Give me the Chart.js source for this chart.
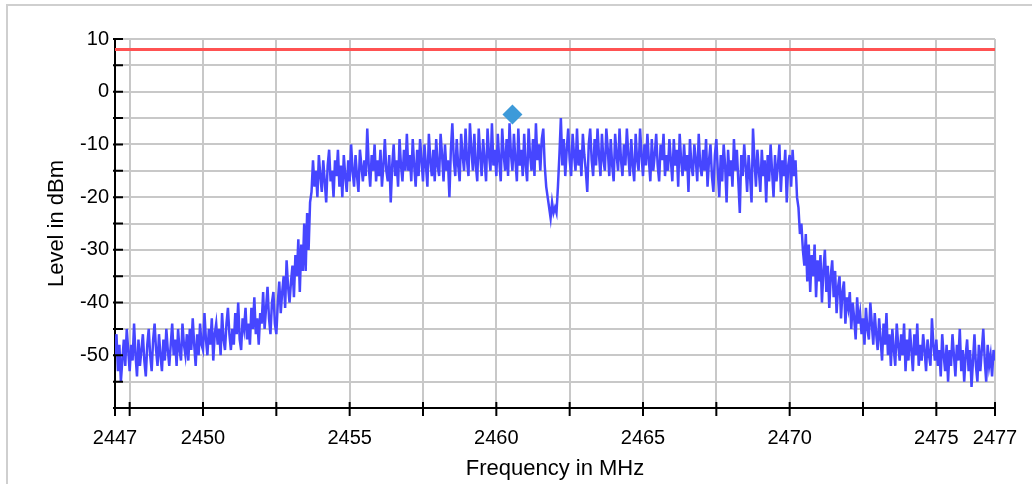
<!DOCTYPE html>
<html>
<head>
<meta charset="utf-8">
<title>Spectrum</title>
<script src="https://cdn.jsdelivr.net/npm/chart.js@4.4.1/dist/chart.umd.min.js"></script>
<style>
  html, body { margin: 0; padding: 0; background: #fff; }
  #wrap { position: relative; width: 1032px; height: 484px; overflow: hidden; }
  #frame { position: absolute; left: 6px; top: 4px; width: 1200px; height: 700px;
           border-left: 2px solid #cfcfcf; border-top: 2px solid #cfcfcf; }
  canvas { position: absolute; left: 0; top: 0; }
</style>
</head>
<body>
<div id="wrap">
  <div id="frame"></div>
  <canvas id="myChart" width="1032" height="484"></canvas>
</div>
<script>
// Sweep span (MHz), trace points are evenly spaced across it
const spanStart = 2447;
const spanStop = 2477;

// Measured level in dBm, one row per 0.5 MHz
const lowerSkirt = [
  -50, -46, -53, -48, -55, -51, -47, -52, -45, -49,
  -53, -48, -51, -44, -50, -54, -47, -52, -49, -46,
  -51, -54, -48, -45, -50, -53, -47, -44, -49, -52,
  -46, -50, -53, -47, -51, -45, -49, -52, -48, -44,
  -50, -47, -52, -45, -49, -51, -44, -48, -50, -46,
  -51, -45, -49, -43, -48, -52, -46, -50, -44, -48,
  -49, -42, -47, -50, -45, -48, -43, -51, -46, -44,
  -48, -45, -50, -42, -47, -49, -44, -41, -46, -49,
  -45, -48, -42, -46, -40, -47, -49, -43, -45, -41,
  -47, -44, -48, -41, -45, -39, -46, -43, -48, -42,
  -44, -38, -45, -41, -37, -43, -46, -40, -38, -44,
  -46, -40, -36, -42, -38, -35, -41, -32, -37, -40,
  -36, -33, -39, -31, -35, -28, -38, -29, -34, -25,
  -34, -23, -30, -21, -19, -13, -18, -15, -20, -12
];
const passband = [
  -16, -19, -13, -17, -21, -14, -11, -17, -15, -20,
  -13, -16, -11, -18, -14, -20, -12, -16, -19, -13,
  -17, -10, -15, -18, -12, -16, -19, -11, -14, -17,
  -13, -16, -7, -14, -18, -12, -15, -10, -17, -13,
  -16, -11, -18, -14, -9, -15, -17, -12, -21, -14,
  -10, -16, -13, -18, -9, -14, -17, -11, -15, -8,
  -15, -12, -17, -9, -14, -18, -11, -16, -9, -13,
  -17, -10, -14, -18, -8, -13, -16, -11, -17, -9,
  -14, -16, -8, -12, -17, -10, -15, -13, -20, -11,
  -6, -13, -16, -9, -14, -17, -8, -12, -15, -7,
  -13, -16, -6, -11, -15, -8, -14, -17, -7, -12,
  -16, -9, -13, -17, -7, -12, -15, -6, -14, -11,
  -16, -8, -13, -17, -7, -12, -15, -9, -16, -6,
  -12, -15, -8, -13, -17, -7, -14, -11, -16, -8,
  -14, -17, -7, -12, -15, -9, -16, -6, -13, -10,
  -15, -9, -7, -14, -18, -20, -22, -24, -21, -23,
  -22, -23, -18, -12, -5, -14, -9, -16, -11, -7,
  -13, -16, -8, -12, -15, -7, -14, -11, -16, -8,
  -12, -15, -19, -10, -7, -13, -16, -9, -14, -7,
  -12, -16, -8, -13, -15, -7, -11, -16, -9, -14,
  -17, -8, -12, -15, -7, -13, -16, -10, -14, -7,
  -12, -16, -9, -14, -17, -8, -13, -15, -7, -12,
  -16, -10, -14, -8, -13, -17, -9, -15, -12, -8,
  -14, -17, -10, -13, -8, -16, -12, -15, -9, -13,
  -17, -9, -14, -11, -18, -8, -13, -16, -10, -15,
  -12, -19, -9, -14, -16, -10, -13, -17, -8, -14,
  -16, -11, -15, -9, -18, -13, -10, -16, -19, -12,
  -9, -15, -20, -12, -17, -10, -14, -21, -11, -16,
  -13, -18, -9, -15, -11, -17, -23, -12, -16, -10,
  -14, -19, -12, -16, -21, -7, -13, -18, -11, -15,
  -19, -11, -16, -13, -21, -12, -17, -10, -15, -20,
  -12, -17, -14, -10, -19, -13, -16, -11, -21, -14
];
const upperSkirt = [
  -12, -18, -11, -16, -13, -20, -22, -27, -25, -30,
  -33, -27, -36, -29, -38, -31, -35, -29, -39, -32,
  -36, -31, -40, -34, -30, -38, -33, -41, -35, -32,
  -39, -34, -42, -37, -35, -43, -38, -36, -44, -39,
  -41, -38, -45, -40, -43, -47, -39, -44, -42, -46,
  -43, -48, -41, -45, -47, -40, -44, -48, -42, -46,
  -49, -43, -47, -51, -44, -48, -42, -50, -46, -52,
  -45, -49, -52, -44, -48, -51, -46, -50, -44, -53,
  -47, -51, -45, -49, -53, -46, -50, -44, -52, -48,
  -51, -46, -49, -53, -47, -50, -52, -43, -48, -51,
  -47, -52, -49, -54, -46, -50, -53, -48, -55, -49,
  -52, -46, -50, -54, -48, -51, -45, -53, -49, -55,
  -50, -47, -53, -49, -56, -51, -46, -52, -55, -48,
  -53, -49, -45, -51, -55, -48, -52, -50, -54, -49, -51
];

const limitLevel = 8;
const markerFreq = 2460.55;
const markerLevel = -4.3;

// Axis ticks
const xGridValues = [2447, 2447.5, 2450, 2452.5, 2455, 2457.5, 2460, 2462.5,
                     2465, 2467.5, 2470, 2472.5, 2475, 2477];
const xLabelValues = [2447, 2450, 2455, 2460, 2465, 2470, 2475, 2477];
const yLabelValues = [10, 0, -10, -20, -30, -40, -50];

const levels = [...lowerSkirt, ...passband, ...upperSkirt];
const step = (spanStop - spanStart) / (levels.length - 1);
const trace = levels.map((v, i) => ({ x: spanStart + i * step, y: v }));

const font = "'Liberation Sans', Arial, Helvetica, sans-serif";

// tick marks that cross the axis lines
const crossTicks = {
  id: 'crossTicks',
  afterDraw(chart) {
    const { ctx, scales: { x, y } } = chart;
    ctx.save();
    ctx.strokeStyle = '#000';
    ctx.lineWidth = 2;
    ctx.beginPath();
    x.ticks.forEach(t => {
      const px = x.getPixelForValue(t.value);
      ctx.moveTo(px, y.bottom - 6);
      ctx.lineTo(px, y.bottom + 8);
    });
    y.ticks.forEach(t => {
      const py = y.getPixelForValue(t.value);
      ctx.moveTo(x.left - 2, py);
      ctx.lineTo(x.left + 8, py);
    });
    ctx.stroke();
    ctx.restore();
  }
};

const ctx = document.getElementById('myChart');

new Chart(ctx, {
  type: 'line',
  data: {
    datasets: [{
      data: [{ x: markerFreq, y: markerLevel }],
      showLine: false,
      pointStyle: 'rectRot',
      pointRadius: 10,
      pointBackgroundColor: '#3d9ad9',
      pointBorderWidth: 0
    }, {
      data: [{ x: spanStart, y: limitLevel }, { x: spanStop, y: limitLevel }],
      borderColor: '#ff5252',
      borderWidth: 3,
      pointRadius: 0
    }, {
      data: trace,
      borderColor: '#4646ff',
      borderWidth: 2.5,
      pointRadius: 0,
      tension: 0
    }]
  },
  options: {
    responsive: false,
    animation: false,
    layout: { padding: { top: 39, right: 37, left: 0, bottom: 0 } },
    plugins: {
      legend: { display: false },
      tooltip: { enabled: false }
    },
    scales: {
      x: {
        type: 'linear',
        min: spanStart,
        max: spanStop,
        afterBuildTicks: s => { s.ticks = xGridValues.map(v => ({ value: v })); },
        afterFit: s => { s.height = 76; s.paddingLeft = 0; s.paddingRight = 0; },
        grid: { color: '#c8c8c8', lineWidth: 2, drawTicks: false },
        border: { display: true, color: '#000', width: 2 },
        ticks: {
          autoSkip: false,
          maxRotation: 0,
          padding: 18,
          color: '#000',
          font: { family: font, size: 20 },
          callback: v => xLabelValues.includes(v) ? String(v) : ''
        },
        title: {
          display: true,
          text: 'Frequency in MHz',
          color: '#000',
          font: { family: font, size: 22 },
          padding: { top: 0, bottom: 2 }
        }
      },
      y: {
        min: -60,
        max: 10,
        afterFit: s => { s.width = 115; },
        grid: { color: '#c8c8c8', lineWidth: 2, drawTicks: false },
        border: { display: true, color: '#000', width: 2 },
        ticks: {
          stepSize: 5,
          autoSkip: false,
          padding: 6,
          color: '#000',
          font: { family: font, size: 20 },
          callback: v => yLabelValues.includes(v) ? String(v) : ''
        },
        title: {
          display: true,
          text: 'Level in dBm',
          color: '#000',
          font: { family: font, size: 22 },
          padding: { top: 44, bottom: 0 }
        }
      }
    }
  },
  plugins: [crossTicks]
});
</script>
</body>
</html>
